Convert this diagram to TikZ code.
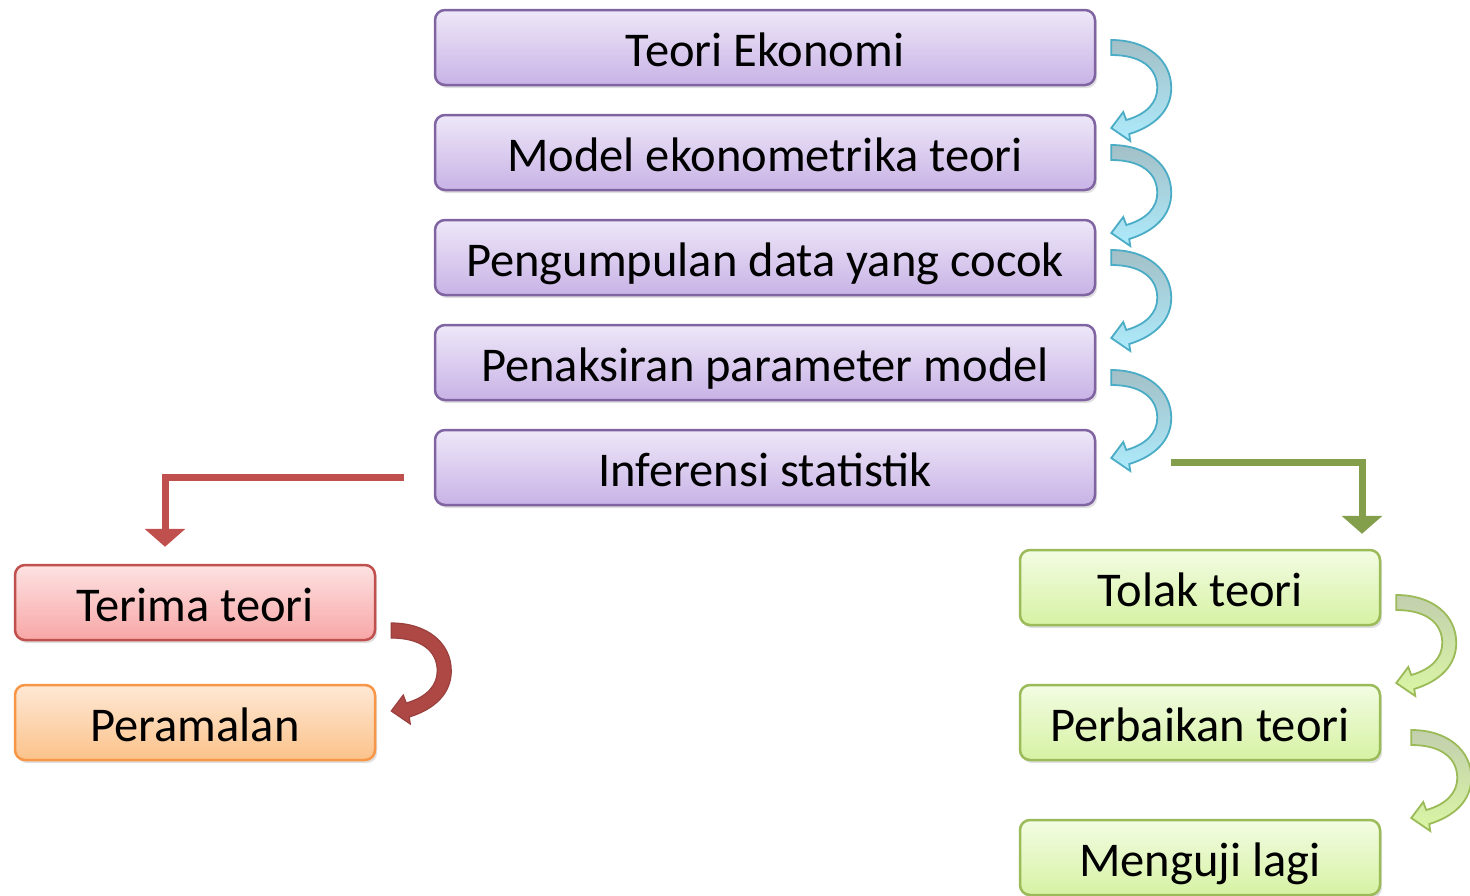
\documentclass[tikz,border=0pt]{standalone}
\usepackage{fontspec}
\setmainfont{Carlito}
\usetikzlibrary{shadows,arrows.meta}

\definecolor{ungu}{HTML}{8064A2}
\definecolor{merah}{HTML}{C0504D}
\definecolor{oranye}{HTML}{F79646}
\definecolor{hijau}{HTML}{9BBB59}
\definecolor{biru}{HTML}{4BACC6}
\definecolor{unguatas}{HTML}{EEE7F8}
\definecolor{ungubawah}{HTML}{C8B3E6}
\definecolor{merahatas}{HTML}{FDE2E2}
\definecolor{merahbawah}{HTML}{F8A6A6}
\definecolor{oranyeatas}{HTML}{FEE8D5}
\definecolor{oranyebawah}{HTML}{FBC28A}
\definecolor{hijauatas}{HTML}{F3FCE3}
\definecolor{hijaubawah}{HTML}{D6F2A3}
\definecolor{birugelap}{HTML}{A3BFC6}
\definecolor{birumuda}{HTML}{ADEBFC}
\definecolor{hijaugelap}{HTML}{C2CFAE}
\definecolor{hijaumuda}{HTML}{DAF6A4}

\begin{document}
\begin{tikzpicture}[x=1pt, y=-1pt,
  kotak/.style={draw, line width=2.5pt, rounded corners=10pt,
    minimum width=#1, minimum height=75pt, inner sep=0pt,
    text height=41pt, text depth=4pt,
    font=\fontsize{48.5}{56}\selectfont,
    drop shadow={opacity=0.25, shadow xshift=2pt, shadow yshift=-3pt}},
  kotak/.default=660pt,
  ungubox/.style={kotak, draw=ungu, top color=unguatas, bottom color=ungubawah},
  merahbox/.style={kotak=360pt, draw=merah, top color=merahatas, bottom color=merahbawah},
  oranyebox/.style={kotak=360pt, draw=oranye, top color=oranyeatas, bottom color=oranyebawah},
  hijaubox/.style={kotak=360pt, draw=hijau, top color=hijauatas, bottom color=hijaubawah},
  birupanah/.style={draw=biru, line width=1.8pt, top color=birugelap, bottom color=birumuda},
  hijaupanah/.style={draw=hijau, line width=1.8pt, top color=hijaugelap, bottom color=hijaumuda},
  merahpanah/.style={draw=merah!80!black, line width=1.2pt, fill=merah!90!black},
  siku/.style={line width=7pt, line join=miter, -{Triangle[width=40pt,length=18pt]}}]

  \useasboundingbox (0,0) rectangle (1470,895);

  \newcommand\lengkung[2]{%
    \begin{scope}[shift={(#2)}]
      \filldraw[#1] (0,0) .. controls (36,0) and (60,20) .. (60,48)
        .. controls (60,70) and (44,86) .. (18,94) -- (19,101) -- (0,88)
        -- (12,72) -- (15,80) .. controls (36,74) and (46,62) .. (46,48)
        .. controls (46,28) and (30,15) .. (0,15) -- cycle;
    \end{scope}}

  % alur utama
  \node[ungubox] (teori) at (765,47.5) {Teori Ekonomi};
  \node[ungubox] (model) at (765,152.5) {Model ekonometrika teori};
  \node[ungubox] (data) at (765,257.5) {Pengumpulan data yang cocok};
  \node[ungubox] (taksir) at (765,362.5) {Penaksiran parameter model};
  \node[ungubox] (inferensi) at (765,467.5) {Inferensi statistik};

  % cabang kiri dan kanan
  \node[merahbox] (terima) at (195,602.5) {Terima teori};
  \node[oranyebox] (ramal) at (195,722.5) {Peramalan};
  \node[hijaubox] (tolak) at (1200,587.5) {Tolak teori};
  \node[hijaubox] (perbaikan) at (1200,722.5) {Perbaikan teori};
  \node[hijaubox] (uji) at (1200,857.5) {Menguji lagi};

  \lengkung{birupanah}{[xshift=15pt,yshift=7.5pt]teori.east}
  \lengkung{birupanah}{[xshift=15pt,yshift=7.5pt]model.east}
  \lengkung{birupanah}{[xshift=15pt,yshift=7.5pt]data.east}
  \lengkung{birupanah}{[xshift=15pt,yshift=-7.5pt]taksir.east}
  \lengkung{merahpanah}{[xshift=15pt,yshift=-20.5pt]terima.east}
  \lengkung{hijaupanah}{[xshift=15pt,yshift=-7.5pt]tolak.east}
  \lengkung{hijaupanah}{[xshift=30pt,yshift=-7.5pt]perbaikan.east}

  \draw[siku, merah] ([xshift=-30pt,yshift=-10pt]inferensi.west)
    -| ([xshift=-30pt,yshift=17pt]terima.north);
  \draw[siku, hijau!85!black] ([xshift=75pt,yshift=5pt]inferensi.east)
    -| ([xshift=162pt,yshift=15pt]tolak.north);

\end{tikzpicture}
\end{document}
